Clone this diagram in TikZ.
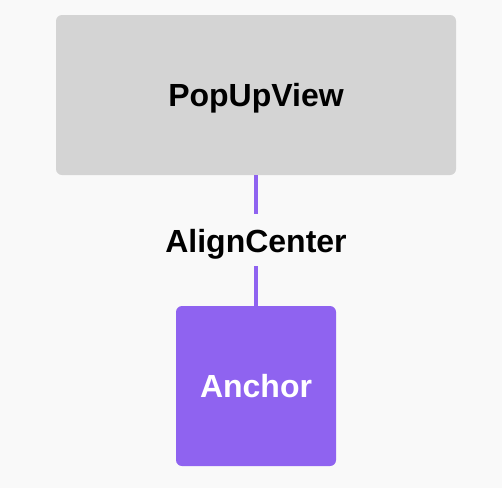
\documentclass[tikz,border=0pt]{standalone}
\usepackage{fontspec}
\setmainfont{Liberation Sans}
\usepackage{tikz}
\definecolor{bggray}{HTML}{F9F9F9}
\definecolor{boxgray}{HTML}{D4D4D4}
\definecolor{anchorpurple}{HTML}{8F63F0}
\begin{document}
\begin{tikzpicture}[x=1pt,y=1pt]
\tikzstyle{every node}+=[inner sep=0pt,font=\fontsize{32}{38}\selectfont\bfseries]
\tikzstyle{viewbox}=[rectangle,rounded corners=6pt,text height=23pt,text depth=0pt]
\fill [bggray] (0,0) rectangle (502,-488);
\node [viewbox,fill=boxgray,minimum width=400pt,minimum height=160pt] (popup) at (256,-95) {PopUpView};
\node [viewbox,fill=anchorpurple,text=white,minimum width=160pt,minimum height=160pt] (anchor) at (256,-386) {Anchor};
\node [anchor=base] (align) at (256,-252) {AlignCenter};
\draw [anchorpurple,line width=4pt,shorten >=15pt] (popup) -- (align);
\draw [anchorpurple,line width=4pt,shorten <=7.5pt] (align) -- (anchor);
\end{tikzpicture}
\end{document}
